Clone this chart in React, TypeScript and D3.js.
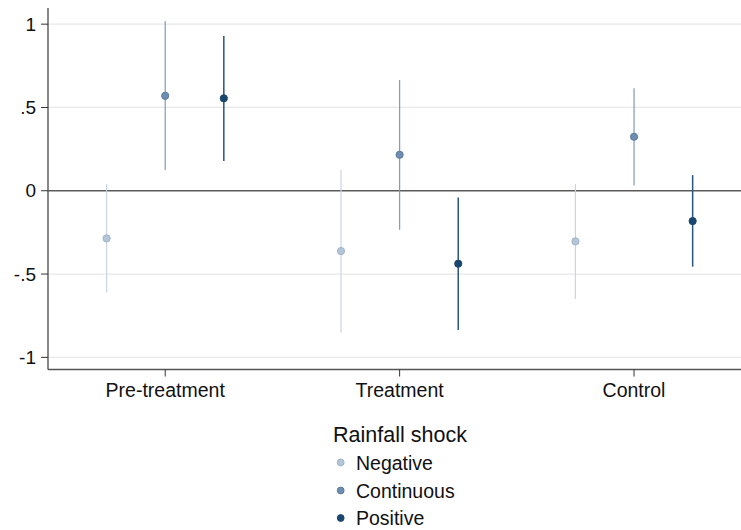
import React from "react";
import * as d3 from "d3";

const categories = ["Pre-treatment", "Treatment", "Control"];
const groups = ["Negative", "Continuous", "Positive"];
const yTicks = [-1, -0.5, 0, 0.5, 1];
const yTickLabels = ["-1", "-.5", "0", ".5", "1"];

// point estimates and 95% CI per rainfall shock, one value per category
const negEst = [-0.286, -0.362, -0.304];
const negLo = [-0.612, -0.852, -0.65];
const negHi = [0.04, 0.124, 0.04];
const contEst = [0.57, 0.216, 0.324];
const contLo = [0.124, -0.234, 0.032];
const contHi = [1.019, 0.665, 0.616];
const posEst = [0.555, -0.438, -0.182];
const posLo = [0.178, -0.836, -0.456];
const posHi = [0.929, -0.04, 0.094];

const width = 741;
const height = 530;
const font = "'Liberation Sans', Arial, Helvetica, sans-serif";

const series = [
  { name: groups[0], est: negEst, lo: negLo, hi: negHi, offset: -0.25, line: "#c9d5e2", fill: "#b4c5d7", stroke: "#9fb3c9", lw: 1.2 },
  { name: groups[1], est: contEst, lo: contLo, hi: contHi, offset: 0, line: "#7f9aba", fill: "#6f8daf", stroke: "#5a7ba0", lw: 1.2 },
  { name: groups[2], est: posEst, lo: posLo, hi: posHi, offset: 0.25, line: "#2a5582", fill: "#1a476f", stroke: "#1a476f", lw: 1.5 },
];

const App = () => {
  const x = d3.scaleLinear().domain([0.5, 3.5]).range([48, 751.25]);
  const y = d3.scaleLinear().domain([-1.073, 1.097]).range([369.5, 8]);
  const left = 48;
  const right = width;
  const bottom = y.range()[0];

  return (
    <svg
      width={width}
      height={height}
      style={{ position: "absolute", left: 0, top: 0, background: "#fff" }}
      fontFamily={font}
    >
      {/* gridlines */}
      {yTicks.filter((t) => t !== 0).map((t) => (
        <line key={"g" + t} x1={left} x2={right} y1={y(t)} y2={y(t)} stroke="#e8e8e8" strokeWidth={1.2} />
      ))}
      {/* zero reference line */}
      <line x1={left} x2={right} y1={y(0)} y2={y(0)} stroke="#5a5a5a" strokeWidth={1.4} />

      {/* axes */}
      <line x1={left} x2={left} y1={8} y2={bottom} stroke="#555" strokeWidth={1.4} />
      <line x1={left} x2={right} y1={bottom} y2={bottom} stroke="#555" strokeWidth={1.4} />
      {yTicks.map((t, i) => (
        <g key={"y" + t}>
          <line x1={left - 7} x2={left} y1={y(t)} y2={y(t)} stroke="#333" strokeWidth={1} />
          <text x={left - 12} y={y(t)} dy="0.35em" textAnchor="end" fontSize={19} fill="#111">
            {yTickLabels[i]}
          </text>
        </g>
      ))}
      {categories.map((c, i) => (
        <g key={c}>
          <line x1={x(i + 1)} x2={x(i + 1)} y1={bottom} y2={bottom + 7} stroke="#333" strokeWidth={1} />
          <text x={x(i + 1)} y={397} textAnchor="middle" fontSize={19.5} fill="#111">
            {c}
          </text>
        </g>
      ))}

      {/* CIs and point estimates */}
      {series.map((s) => (
        <g key={s.name}>
          {s.est.map((v, i) => {
            const cx = x(i + 1 + s.offset);
            return (
              <g key={i}>
                <line x1={cx} x2={cx} y1={y(s.lo[i])} y2={y(s.hi[i])} stroke={s.line} strokeWidth={s.lw} />
                <circle cx={cx} cy={y(v)} r={3.6} fill={s.fill} stroke={s.stroke} strokeWidth={1} />
              </g>
            );
          })}
        </g>
      ))}

      {/* legend */}
      <text x={400} y={442.3} textAnchor="middle" fontSize={21.5} fill="#111">
        Rainfall shock
      </text>
      {series.map((s, i) => {
        const ly = [462.5, 490.5, 518][i];
        return (
          <g key={"l" + s.name}>
            <circle cx={340.7} cy={ly} r={3.4} fill={s.fill} stroke={s.stroke} strokeWidth={1} />
            <text x={356} y={ly} dy="0.36em" fontSize={19.5} fill="#111">
              {s.name}
            </text>
          </g>
        );
      })}
    </svg>
  );
};

export default App;
